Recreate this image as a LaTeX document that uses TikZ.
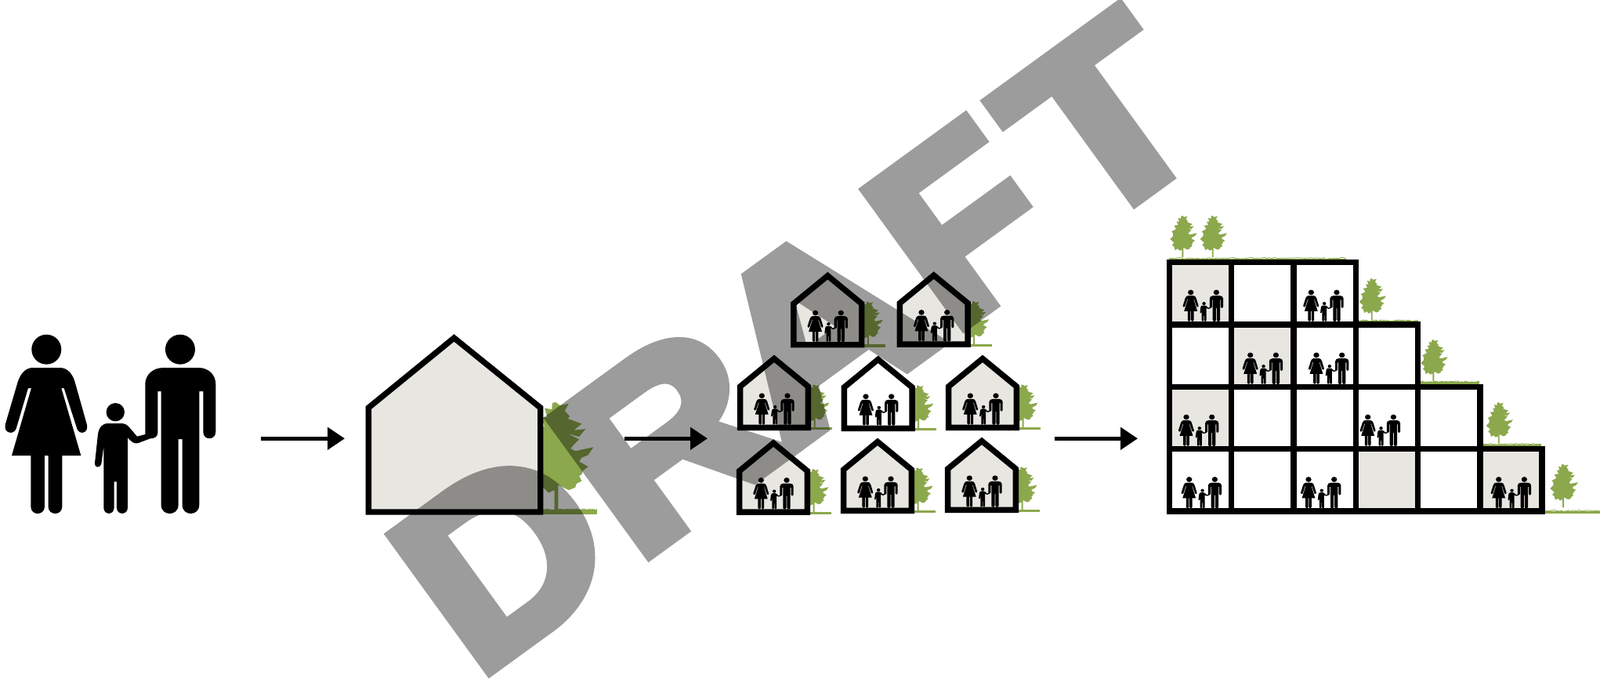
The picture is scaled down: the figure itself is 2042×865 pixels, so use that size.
\documentclass[tikz,border=0pt]{standalone}
\usepackage{fontspec}
\usepackage{graphicx}
\usetikzlibrary{arrows.meta,decorations.pathmorphing}
\newfontfamily\draftfont[FakeBold=5]{Liberation Sans Bold}
\definecolor{leaf}{HTML}{8CA84C}
\definecolor{beige}{HTML}{E8E6E1}
\tikzset{
  wall/.style={draw=black,line width=7.4pt,miter limit=10,line join=miter},
  flow/.style={line width=5pt,-{Triangle[length=22pt,width=28pt]}},
  leaffill/.style={fill=leaf,draw=none},
  peoplefill/.style={fill=black,draw=none}
}
% family glyph: coordinates are 3x reference pixels, origin at the woman's feet
\newcommand{\familyglyph}[4]{%
\begin{scope}[shift={(#1,#2)},xscale=#3,yscale=#4]
\begin{scope}[shift={(-178,-765)}]
\fill[peoplefill] (178,137) circle[radius=57];
\fill[peoplefill] (690,137) circle[radius=57];
\fill[peoplefill] (442,377) circle[radius=35];
% woman
\fill[peoplefill] (125,207) -- (230,207) .. controls (258,207) and (278,230) .. (287,262)
 -- (333,425) .. controls (340,458) and (304,466) .. (295,440) -- (245,285) -- (235,285)
 -- (310,543) -- (238,543) -- (238,738) .. controls (238,774) and (185,774) .. (185,738)
 -- (185,543) -- (171,543) -- (171,738) .. controls (171,774) and (118,774) .. (118,738)
 -- (118,543) -- (45,543) -- (120,285) -- (108,285) -- (62,440)
 .. controls (52,466) and (14,458) .. (20,425) -- (68,262)
 .. controls (78,230) and (98,207) .. (125,207) -- cycle;
% man and child
\fill[peoplefill] (625,207) -- (760,207) .. controls (800,207) and (826,235) .. (826,270)
 -- (826,452) .. controls (826,486) and (778,486) .. (778,452) -- (778,297) -- (763,297)
 -- (763,732) .. controls (763,776) and (698,776) .. (698,732) -- (698,480) -- (683,480)
 -- (683,732) .. controls (683,776) and (617,776) .. (617,732) -- (617,297) -- (604,297)
 -- (604,455) .. controls (604,472) and (590,478) .. (575,478) -- (530,495)
 .. controls (515,500) and (505,492) .. (489,475) -- (489,742)
 .. controls (489,772) and (447,772) .. (447,742) -- (447,643) -- (437,643)
 -- (437,742) .. controls (437,772) and (397,772) .. (397,742) -- (397,510) -- (388,575)
 .. controls (384,592) and (361,590) .. (363,573) -- (375,462)
 .. controls (378,435) and (395,420) .. (410,420) -- (465,420)
 .. controls (478,420) and (488,426) .. (495,435) -- (525,470) -- (556,462)
 -- (556,270) .. controls (556,235) and (585,207) .. (625,207) -- cycle;
\end{scope}
\end{scope}}
% tree: origin at trunk base
\newcommand{\treeglyph}[3]{%
\begin{scope}[shift={(#1,#2)},scale=#3]
\fill[leaffill] (-1,-165) -- (6,-160) -- (19,-163) -- (13,-152) -- (21,-143) -- (17,-140)
 -- (39,-132) -- (27,-122) -- (45,-124) -- (35,-112) -- (18,-117) -- (35,-108) -- (27,-100)
 -- (22,-94) -- (29,-90) -- (57,-96) -- (49,-84) -- (39,-80) -- (35,-74) -- (49,-66)
 -- (41,-60) -- (39,-54) -- (35,-52) -- (39,-44) -- (31,-40) -- (29,-34) -- (19,-30)
 -- (11,-34) -- (3,-38) -- (3,0)
 -- (-3,0) -- (-3,-30) -- (-12,-26) -- (-20,-34) -- (-30,-28) -- (-34,-42) -- (-42,-48)
 -- (-34,-58) -- (-50,-72) -- (-38,-84) -- (-38,-96) -- (-44,-102) -- (-26,-112)
 -- (-34,-126) -- (-18,-128) -- (-24,-142) -- (-14,-142) -- (-18,-156) -- (-7,-154)
 -- (-6,-164) -- cycle;
\end{scope}}
% grass: x1, x2, top, bottom
\newcommand{\grassstrip}[4]{%
\fill[leaffill] (#1,#3+1) rectangle (#2,#4);
\draw[leaf,line width=.8pt,decorate,decoration={random steps,segment length=2.5pt,amplitude=.9pt}] (#1,#3+.8) -- (#2,#3+.8);}
% small house with its tree, grass and family: left, bottom, fill
\newcommand{\smallhouse}[3]{%
\begin{scope}[shift={(#1,#2)}]
\treeglyph{98.5}{-3.5}{.333}
\fill[leaffill] (94,-4) rectangle (121,-.8);
\filldraw[wall,fill=#3] (3.6,-3.6) -- (3.6,-56) -- (47,-91.6) -- (90.4,-56) -- (90.4,-3.6) -- cycle;
\familyglyph{31.3}{-7.2}{.0638}{.059}
\end{scope}}
\begin{document}
\begin{tikzpicture}[x=1pt,y=-1pt]
\useasboundingbox (0,0) rectangle (2042,865);
\fill[white] (0,0) rectangle (2042,865);
% arrows
\coordinate (a1s) at (333,559.3); \coordinate (a1e) at (440,559.3);
\coordinate (a2s) at (797,559.3); \coordinate (a2e) at (903,559.3);
\coordinate (a3s) at (1345.5,559.3); \coordinate (a3e) at (1452,559.3);
% single family
\familyglyph{59.3}{655}{.3333}{.3333}
% single house
\treeglyph{710}{650}{.83}
\grassstrip{693}{762}{649}{656}
\filldraw[wall,fill=beige] (470.3,653) -- (470.3,520) -- (579.5,431) -- (689.7,520) -- (689.7,653) -- cycle;
% row of houses
\smallhouse{1009.3}{443.3}{beige}
\smallhouse{1144.7}{442.7}{beige}
\smallhouse{941}{549}{beige}
\smallhouse{1073.7}{550}{white}
\smallhouse{1207}{549}{beige}
\smallhouse{940}{656.7}{beige}
\smallhouse{1073}{655}{beige}
\smallhouse{1206}{654}{beige}
% terraced block: trees and green roofs
\treeglyph{1509.3}{328}{.32}
\treeglyph{1547.7}{328}{.32}
\treeglyph{1750.7}{408}{.32}
\treeglyph{1829.3}{486}{.32}
\treeglyph{1912.7}{566}{.32}
\treeglyph{1995}{647}{.333}
\grassstrip{1491.7}{1718}{328.5}{331.5}
\grassstrip{1734}{1810}{408}{411}
\grassstrip{1813}{1888}{486}{490}
\grassstrip{1892.7}{1967}{565.5}{569}
\grassstrip{1972}{2042}{650.5}{655}
% beige cells
\foreach \c/\r in {0/0,1/1,0/2,3/3,5/3}
  \fill[beige] (1492.3+79.3*\c,334.7+79.3*\r) rectangle ++(79.3,79.3);
% walls
\draw[wall] (1492.3,334.7) -- (1730.2,334.7) -- (1730.2,414) -- (1809.5,414) -- (1809.5,493.3)
  -- (1888.8,493.3) -- (1888.8,572.6) -- (1968.1,572.6) -- (1968.1,651.9) -- (1492.3,651.9) -- cycle;
\draw[wall] (1492.3,414) -- (1730.2,414);
\draw[wall] (1492.3,493.3) -- (1809.5,493.3);
\draw[wall] (1492.3,572.6) -- (1888.8,572.6);
\draw[wall] (1571.6,334.7) -- (1571.6,651.9);
\draw[wall] (1650.9,334.7) -- (1650.9,651.9);
\draw[wall] (1730.2,414) -- (1730.2,651.9);
\draw[wall] (1809.5,493.3) -- (1809.5,651.9);
\draw[wall] (1888.8,572.6) -- (1888.8,651.9);
% families in block
\familyglyph{1519.7}{410}{.0638}{.059}
\familyglyph{1673.3}{410}{.0638}{.059}
\familyglyph{1595.7}{490}{.0638}{.059}
\familyglyph{1680}{490}{.0638}{.059}
\familyglyph{1514}{569}{.0638}{.059}
\familyglyph{1745.7}{569}{.0638}{.059}
\familyglyph{1517.7}{648.5}{.0638}{.059}
\familyglyph{1670}{648.5}{.0638}{.059}
\familyglyph{1912.7}{648.5}{.0638}{.059}
% arrows
\draw[flow] (a1s) -- (a1e);
\draw[flow] (a2s) -- (a2e);
\draw[flow] (a3s) -- (a3e);
% watermark
\begin{scope}[transparency group,opacity=.39]
\node[rotate=36,xscale=1.126,transform shape,anchor=base west,inner sep=0pt,text=black] (draft) at (607.7,867.4) {\fontsize{309}{309}\selectfont\draftfont\scalebox{.96}[1]{D}\kern8.9pt R\kern-13pt A\kern9.3pt\scalebox{.88}[1]{F}\kern20pt T};
\end{scope}
\end{tikzpicture}
\end{document}
